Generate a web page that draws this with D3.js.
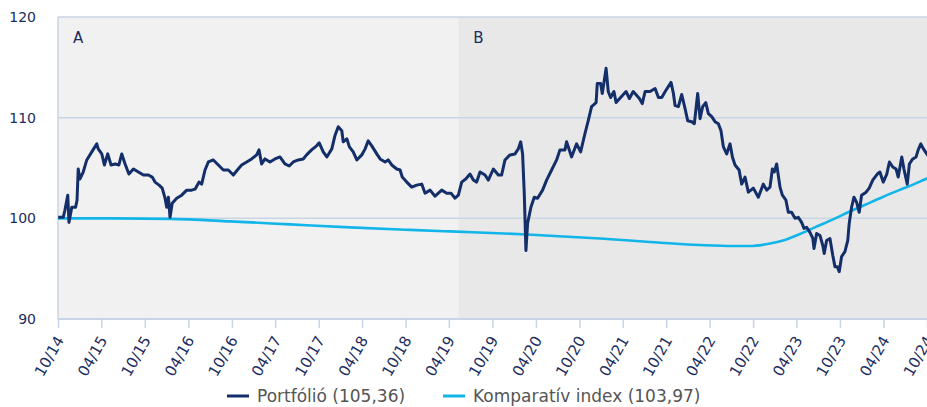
<!DOCTYPE html>
<html>

<head>
    <meta charset="utf-8">
    <style>
        body {
            margin: 0;
            background: #fff;
        }

        svg {
            display: block;
            font-family: 'DejaVu Sans', Verdana, sans-serif;
        }
    </style>
</head>

<body>
    <svg width="927" height="407"></svg>

    <script src="https://d3js.org/d3.v7.min.js"></script>

    <script>
        //------------------------1. DATA------------------------//
        // portfolio value (index, start = 100)
        let portfolio = [
            ["2014-10-02", 100.1], ["2014-10-23", 100.1], ["2014-10-30", 100.8], ["2014-11-11", 102.3],
            ["2014-11-16", 99.6], ["2014-11-28", 101.1], ["2014-12-14", 101.1], ["2014-12-20", 101.8],
            ["2014-12-25", 104.9], ["2015-01-01", 103.9], ["2015-01-15", 104.6], ["2015-01-30", 105.8],
            ["2015-02-20", 106.6], ["2015-03-13", 107.4], ["2015-03-19", 106.9], ["2015-04-03", 106.4],
            ["2015-04-14", 105.3], ["2015-04-28", 106.4], ["2015-05-12", 105.3], ["2015-05-29", 105.4],
            ["2015-06-14", 105.3], ["2015-06-26", 106.4], ["2015-07-10", 105.4], ["2015-07-26", 104.4],
            ["2015-08-14", 104.9], ["2015-09-04", 104.6], ["2015-09-25", 104.3], ["2015-10-16", 104.3],
            ["2015-11-01", 104.1], ["2015-11-13", 103.6], ["2015-11-30", 103.3], ["2015-12-13", 103.0],
            ["2015-12-25", 102.0], ["2016-01-01", 101.1], ["2016-01-08", 102.1], ["2016-01-15", 100.1],
            ["2016-01-24", 101.5], ["2016-02-12", 102.0], ["2016-03-04", 102.3], ["2016-03-25", 102.8],
            ["2016-04-15", 102.8], ["2016-04-29", 102.9], ["2016-05-16", 103.6], ["2016-05-27", 103.4],
            ["2016-06-10", 104.8], ["2016-06-24", 105.6], ["2016-07-15", 105.8], ["2016-08-05", 105.3],
            ["2016-08-26", 104.8], ["2016-09-16", 104.8], ["2016-10-07", 104.3], ["2016-10-24", 104.8],
            ["2016-11-11", 105.3], ["2016-12-02", 105.6], ["2016-12-23", 105.9], ["2017-01-13", 106.3],
            ["2017-01-23", 106.8], ["2017-02-03", 105.4], ["2017-02-17", 105.9], ["2017-03-10", 105.6],
            ["2017-03-31", 105.9], ["2017-04-21", 106.1], ["2017-05-12", 105.4], ["2017-05-30", 105.2],
            ["2017-06-16", 105.6], ["2017-07-07", 105.8], ["2017-07-28", 105.9], ["2017-08-11", 106.3],
            ["2017-09-01", 106.8], ["2017-09-22", 107.2], ["2017-10-03", 107.5], ["2017-10-20", 106.6],
            ["2017-11-04", 106.1], ["2017-11-25", 106.9], ["2017-12-08", 108.2], ["2017-12-22", 109.1],
            ["2018-01-06", 108.7], ["2018-01-12", 107.6], ["2018-01-27", 107.9], ["2018-02-07", 107.1],
            ["2018-02-23", 106.6], ["2018-03-10", 105.8], ["2018-03-31", 106.3], ["2018-04-14", 106.9],
            ["2018-04-27", 107.7], ["2018-05-12", 107.2], ["2018-06-02", 106.4], ["2018-06-16", 105.9],
            ["2018-07-07", 105.6], ["2018-07-20", 105.8], ["2018-08-04", 105.3], ["2018-08-25", 104.9],
            ["2018-09-08", 104.8], ["2018-09-17", 104.1], ["2018-10-06", 103.6], ["2018-10-27", 103.1],
            ["2018-11-17", 103.3], ["2018-12-08", 103.4], ["2018-12-22", 102.5], ["2019-01-12", 102.8],
            ["2019-02-02", 102.2], ["2019-03-02", 102.8], ["2019-03-23", 102.5], ["2019-04-10", 102.5],
            ["2019-04-27", 102.0], ["2019-05-11", 102.3], ["2019-05-25", 103.6], ["2019-06-11", 103.9],
            ["2019-06-29", 104.4], ["2019-07-13", 103.8], ["2019-07-27", 103.6], ["2019-08-10", 104.6],
            ["2019-08-31", 104.3], ["2019-09-14", 103.8], ["2019-10-05", 104.9], ["2019-10-26", 104.3],
            ["2019-11-09", 104.3], ["2019-11-23", 105.8], ["2019-12-14", 106.3], ["2020-01-04", 106.4],
            ["2020-01-18", 106.9], ["2020-01-28", 107.6], ["2020-02-05", 106.4], ["2020-02-12", 102.5],
            ["2020-02-19", 96.8], ["2020-02-26", 99.5], ["2020-03-11", 101.1], ["2020-03-25", 102.1],
            ["2020-04-08", 102.0], ["2020-04-29", 102.8], ["2020-05-16", 103.8], ["2020-06-06", 104.8],
            ["2020-06-27", 105.8], ["2020-07-11", 106.8], ["2020-08-01", 106.8], ["2020-08-08", 107.6],
            ["2020-08-29", 106.1], ["2020-09-19", 107.4], ["2020-10-06", 106.6], ["2020-10-24", 108.4],
            ["2020-11-07", 109.7], ["2020-11-21", 111.1], ["2020-12-10", 111.5], ["2020-12-15", 113.4],
            ["2020-12-29", 113.4], ["2021-01-05", 112.4], ["2021-01-21", 114.9], ["2021-01-30", 112.6],
            ["2021-02-09", 112.0], ["2021-02-23", 112.6], ["2021-03-04", 111.5], ["2021-03-23", 112.0],
            ["2021-04-15", 112.6], ["2021-04-29", 111.9], ["2021-05-15", 112.6], ["2021-06-10", 111.9],
            ["2021-06-22", 111.4], ["2021-07-04", 112.6], ["2021-07-25", 112.6], ["2021-08-15", 112.9],
            ["2021-08-29", 112.0], ["2021-09-12", 112.0], ["2021-09-29", 112.7], ["2021-10-21", 113.5],
            ["2021-10-31", 112.4], ["2021-11-07", 111.2], ["2021-11-21", 111.1], ["2021-12-05", 112.3],
            ["2021-12-19", 110.9], ["2021-12-30", 109.7], ["2022-01-16", 109.6], ["2022-01-27", 109.4],
            ["2022-02-10", 112.4], ["2022-02-20", 109.9], ["2022-03-03", 111.1], ["2022-03-16", 111.5],
            ["2022-03-27", 110.4], ["2022-04-10", 110.1], ["2022-04-24", 109.6], ["2022-05-08", 109.4],
            ["2022-05-19", 108.7], ["2022-05-29", 107.1], ["2022-06-12", 106.4], ["2022-06-26", 107.4],
            ["2022-07-06", 106.1], ["2022-07-17", 105.3], ["2022-08-03", 104.8], ["2022-08-14", 103.4],
            ["2022-08-28", 104.1], ["2022-09-11", 102.6], ["2022-10-02", 103.0], ["2022-10-23", 102.1],
            ["2022-11-13", 103.4], ["2022-11-27", 102.8], ["2022-12-11", 103.1], ["2022-12-21", 104.9],
            ["2022-12-29", 104.6], ["2023-01-08", 105.4], ["2023-01-22", 103.1], ["2023-02-01", 102.3],
            ["2023-02-16", 101.8], ["2023-02-26", 100.6], ["2023-03-12", 100.6], ["2023-03-26", 100.0],
            ["2023-04-09", 100.1], ["2023-04-23", 99.6], ["2023-05-03", 99.0], ["2023-05-14", 99.1],
            ["2023-05-28", 98.6], ["2023-06-09", 98.0], ["2023-06-14", 97.0], ["2023-06-25", 98.5],
            ["2023-07-09", 98.3], ["2023-07-21", 97.3], ["2023-07-27", 96.5], ["2023-08-06", 97.8],
            ["2023-08-20", 98.0], ["2023-09-01", 96.3], ["2023-09-10", 95.2], ["2023-09-20", 95.2],
            ["2023-09-28", 94.7], ["2023-10-08", 96.2], ["2023-10-22", 96.7], ["2023-11-03", 97.8],
            ["2023-11-09", 99.5], ["2023-11-19", 101.1], ["2023-11-29", 102.1], ["2023-12-10", 101.6],
            ["2023-12-21", 100.6], ["2023-12-31", 102.3], ["2024-01-19", 102.6], ["2024-02-01", 103.0],
            ["2024-02-16", 103.8], ["2024-03-06", 104.4], ["2024-03-17", 104.6], ["2024-03-31", 103.6],
            ["2024-04-15", 104.4], ["2024-04-26", 105.6], ["2024-05-10", 105.1], ["2024-05-24", 104.9],
            ["2024-06-02", 104.1], ["2024-06-17", 106.1], ["2024-06-26", 104.9], ["2024-07-10", 103.4],
            ["2024-07-19", 105.4], ["2024-08-02", 105.9], ["2024-08-16", 106.1], ["2024-08-25", 106.8],
            ["2024-09-05", 107.4], ["2024-09-16", 106.9], ["2024-09-30", 106.4], ["2024-10-31", 105.4]
        ];

        // benchmark ("komparatív index"), a smooth curve
        let benchmark = [
            ["2014-10-01", 100.0], ["2015-05-29", 100.0], ["2016-01-15", 99.95], ["2016-09-23", 99.7],
            ["2017-06-02", 99.4], ["2018-02-09", 99.1], ["2018-10-20", 98.85], ["2019-04-06", 98.7],
            ["2020-02-24", 98.4], ["2020-12-26", 98.0], ["2021-07-25", 97.65], ["2022-02-20", 97.35],
            ["2022-07-08", 97.25], ["2022-09-18", 97.25], ["2022-12-11", 97.5], ["2023-02-04", 97.8],
            ["2023-04-16", 98.45], ["2023-06-22", 99.15], ["2023-09-02", 99.9], ["2023-11-09", 100.65],
            ["2024-01-15", 101.35], ["2024-03-27", 102.1], ["2024-06-06", 102.8], ["2024-08-08", 103.4],
            ["2024-10-01", 103.95], ["2024-10-31", 104.2]
        ];

        // shaded periods
        let periodNames = ["A", "B"];
        let periodStarts = ["2014-10-01", "2019-05-11"];
        let periodEnds = ["2019-05-11", "2024-10-01"];

        // axes
        let yTicks = [90, 100, 110, 120];
        let xStart = "2014-10-01";
        let xEnd = "2024-10-01";

        // legend
        let legendNames = ["Portfólió", "Komparatív index"];
        let legendValues = ["105,36", "103,97"];
        let legendColors = ["#132e69", "#12b5e8"];

        //------------------------2. PREPARATION------------------------//
        let svg = d3.select("svg");
        let margin = { top: 17, right: 0, bottom: 88, left: 58 };
        let width = 927;
        let height = 407;

        let parse = d3.timeParse("%Y-%m-%d");
        let toRows = arr => arr.map(d => ({ date: parse(d[0]), value: d[1] }));
        let portfolioRows = toRows(portfolio);
        let benchmarkRows = toRows(benchmark);

        let x = d3.scaleTime()
            .domain([parse(xStart), parse(xEnd)])
            .range([margin.left, width - margin.right]);

        let y = d3.scaleLinear()
            .domain([90, 120])
            .range([height - margin.bottom, margin.top]);

        let gridColor = "#c8d5e5";
        let textColor = "#1b2c5e";

        //------------------------3. DISPLAY------------------------//
        // period backgrounds
        svg.append("g")
            .selectAll("rect")
            .data(periodNames)
            .join("rect")
            .attr("x", (d, i) => x(parse(periodStarts[i])))
            .attr("y", y(120))
            .attr("width", (d, i) => x(parse(periodEnds[i])) - x(parse(periodStarts[i])))
            .attr("height", y(90) - y(120))
            .style("fill", (d, i) => i == 0 ? "#f1f1f1" : "#e8e8e8");

        // period labels
        svg.append("g")
            .selectAll("text")
            .data(periodNames)
            .join("text")
            .attr("x", (d, i) => x(parse(periodStarts[i])) + 15)
            .attr("y", 43)
            .text(d => d)
            .style("font-size", "15px")
            .style("fill", textColor);

        // horizontal grid
        svg.append("g")
            .selectAll("line")
            .data(yTicks)
            .join("line")
            .attr("x1", margin.left)
            .attr("x2", width)
            .attr("y1", d => y(d))
            .attr("y2", d => y(d))
            .style("stroke", gridColor)
            .style("stroke-width", d => d == 90 ? 2 : 1.5);

        // left border
        svg.append("line")
            .attr("x1", margin.left)
            .attr("x2", margin.left)
            .attr("y1", y(120))
            .attr("y2", y(90))
            .style("stroke", gridColor)
            .style("stroke-width", 1.5);

        // y labels
        svg.append("g")
            .selectAll("text")
            .data(yTicks)
            .join("text")
            .attr("x", 36)
            .attr("y", d => y(d))
            .attr("dy", "0.35em")
            .attr("text-anchor", "end")
            .text(d => d)
            .style("font-size", "14px")
            .style("fill", textColor);

        // x axis: every six months from 10/14 (04 and 10)
        let tickDates = d3.timeMonth.range(parse(xStart), d3.timeDay.offset(parse(xEnd), 1), 6);

        let xAxis = d3.axisBottom(x)
            .tickValues(tickDates)
            .tickFormat(d3.timeFormat("%m/%y"))
            .tickSize(9)
            .tickSizeOuter(0);

        let xAxisG = svg.append("g")
            .attr("transform", "translate(0," + y(90) + ")")
            .call(xAxis);

        xAxisG.select(".domain").remove();
        xAxisG.selectAll(".tick line")
            .style("stroke", gridColor)
            .style("stroke-width", 1.5);
        xAxisG.selectAll(".tick text")
            .attr("x", 0)
            .attr("y", 0)
            .attr("dy", null)
            .attr("text-anchor", "end")
            .attr("transform", "translate(6,21) rotate(-60)")
            .style("font-family", "'DejaVu Sans', Verdana, sans-serif")
            .style("font-size", "15px")
            .style("fill", textColor);

        // clip for the lines
        svg.append("clipPath")
            .attr("id", "plot-clip")
            .append("rect")
            .attr("x", margin.left)
            .attr("y", 0)
            .attr("width", width - margin.left)
            .attr("height", y(90));

        let line = d3.line()
            .x(d => x(d.date))
            .y(d => y(d.value));

        let smoothLine = d3.line()
            .curve(d3.curveMonotoneX)
            .x(d => x(d.date))
            .y(d => y(d.value));

        // benchmark
        svg.append("path")
            .attr("clip-path", "url(#plot-clip)")
            .attr("d", smoothLine(benchmarkRows))
            .style("fill", "none")
            .style("stroke", legendColors[1])
            .style("stroke-width", 2.6);

        // portfolio
        svg.append("path")
            .attr("clip-path", "url(#plot-clip)")
            .attr("d", line(portfolioRows))
            .style("fill", "none")
            .style("stroke", legendColors[0])
            .style("stroke-width", 3)
            .style("stroke-linejoin", "round");

        //-----------------------------LEGEND------------------------------//
        let legendX = [227, 443];
        let legend = svg.append("g")
            .selectAll("g")
            .data(legendNames)
            .join("g")
            .attr("transform", (d, i) => "translate(" + legendX[i] + ",396)");

        legend.append("line")
            .attr("x1", 0)
            .attr("x2", 22)
            .style("stroke", (d, i) => legendColors[i])
            .style("stroke-width", 3);

        legend.append("text")
            .attr("x", 30)
            .attr("y", 6)
            .text((d, i) => d + " (" + legendValues[i] + ")")
            .style("font-size", "17px")
            .style("fill", "#555");
    </script>
</body>

</html>
